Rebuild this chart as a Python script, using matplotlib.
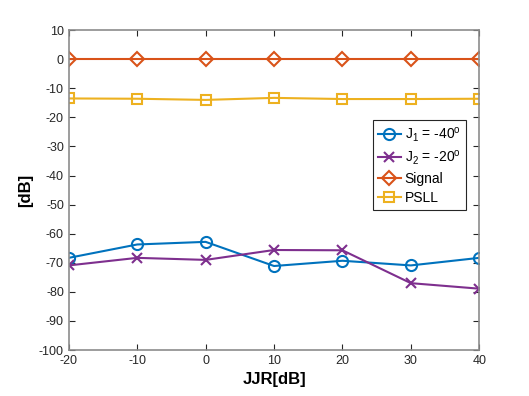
import matplotlib
matplotlib.use('Agg')
import matplotlib.pyplot as plt

# data
jjr = [-20, -10, 0, 10, 20, 30, 40]
j1 = [-68.3, -63.7, -62.8, -71.1, -69.3, -70.9, -68.3]
j2 = [-70.9, -68.3, -69.0, -65.6, -65.7, -77.0, -78.9]
signal = [0, 0, 0, 0, 0, 0, 0]
psll = [-13.5, -13.6, -14.0, -13.3, -13.7, -13.7, -13.6]
yticks = list(range(-100, 11, 10))

plt.rcParams['font.family'] = 'Liberation Sans'
plt.rcParams['mathtext.fontset'] = 'custom'
plt.rcParams['mathtext.rm'] = 'Liberation Sans'
plt.rcParams['mathtext.it'] = 'Liberation Sans'
plt.rcParams['mathtext.default'] = 'regular'
plt.rcParams['axes.unicode_minus'] = False

fig = plt.figure(figsize=(5.29, 3.96), dpi=100)
ax = fig.add_axes([0.130, 0.116, 0.776, 0.808])

ax.plot(jjr, j1, color='#0072BD', marker='o', ms=8, mfc='none', mew=1.5, lw=1.5,
        label=r'J$_1$ = -40$^{o}$')
ax.plot(jjr, j2, color='#7E2F8E', marker='x', ms=7, mew=1.5, lw=1.5,
        label=r'J$_2$ = -20$^{o}$')
ax.plot(jjr, signal, color='#D95319', marker='D', ms=7, mfc='none', mew=1.5, lw=1.5,
        label='Signal')
ax.plot(jjr, psll, color='#EDB120', marker='s', ms=7, mfc='none', mew=1.5, lw=1.5,
        label='PSLL')

ax.set_xlim(-20, 40)
ax.set_ylim(-100, 10)
ax.set_xticks(jjr)
ax.set_yticks(yticks)
ax.tick_params(direction='in', top=True, right=True, labelsize=9, colors='#262626',
               length=4)
for sp in ax.spines.values():
    sp.set_color('#8c8c8c')
    sp.set_linewidth(1.2)

ax.set_xlabel('JJR[dB]', fontsize=12, fontweight='bold')
ax.set_ylabel('[dB]', fontsize=12, fontweight='bold')

leg = ax.legend(loc='upper right', bbox_to_anchor=(0.968, 0.72), fontsize=10,
                fancybox=False, framealpha=1, edgecolor='#262626',
                handlelength=1.6, handletextpad=0.3, borderpad=0.4,
                labelspacing=0.35, borderaxespad=0)
leg.get_frame().set_linewidth(0.8)

fig.savefig('out.png', dpi=100)
